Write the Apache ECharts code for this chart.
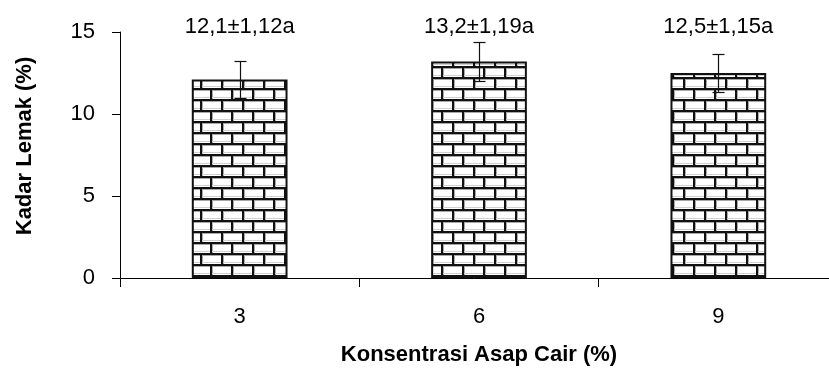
<!DOCTYPE html>
<html>
<head>
<meta charset="utf-8">
<script src="https://cdn.jsdelivr.net/npm/echarts@6/dist/echarts.min.js"></script>
<style>html,body{margin:0;padding:0;background:#fff}#c{width:829px;height:371px}</style>
</head>
<body>
<div id="c"></div>
<script>
var categories = ['3', '6', '9'];
var means = [12.1, 13.2, 12.5];
var sds = [1.12, 1.19, 1.15];
var letters = ['a', 'a', 'a'];
var yTicks = [0, 5, 10, 15];

function fmt(v, d) { return v.toFixed(d).replace('.', ','); }
var labels = means.map(function (m, i) { return fmt(m, 1) + '\u00b1' + fmt(sds[i], 2) + letters[i]; });

function brickPattern() {
  var w = 21, h = 22, c = document.createElement('canvas');
  c.width = w; c.height = h;
  var g = c.getContext('2d');
  g.fillStyle = '#ffffff'; g.fillRect(0, 0, w, h);
  g.fillStyle = '#a8a8a8';
  g.fillRect(0, 2, w, 1); g.fillRect(0, 13, w, 1);
  g.fillRect(2, 0, 1, 11); g.fillRect(13, 11, 1, 11);
  g.fillStyle = '#d0d0d0';
  g.fillRect(0, 9, w, 1); g.fillRect(0, 20, w, 1);
  g.fillStyle = '#111111';
  g.fillRect(0, 0, w, 2); g.fillRect(0, 11, w, 2);
  g.fillRect(0, 0, 2, 11); g.fillRect(11, 11, 2, 11);
  return c;
}

var chart = echarts.init(document.getElementById('c'), null, { renderer: 'canvas' });
var FONT = '"Liberation Sans", Arial, sans-serif';
var option = {
  animation: false,
  grid: { left: 120, top: 32, width: 718, bottom: 93, containLabel: false, outerBoundsMode: 'none' },
  xAxis: {
    type: 'category',
    data: categories,
    name: 'Konsentrasi Asap Cair (%)',
    nameLocation: 'middle',
    nameGap: 66,
    nameTextStyle: { fontFamily: FONT, fontSize: 22, fontWeight: 'bold', color: '#000' },
    axisLine: { lineStyle: { color: '#000', width: 1 } },
    axisTick: { show: true, length: 9, lineStyle: { color: '#000' }, alignWithLabel: false },
    axisLabel: { fontFamily: FONT, fontSize: 22, color: '#000', margin: 28 },
    splitLine: { show: false }
  },
  yAxis: {
    type: 'value',
    min: yTicks[0], max: yTicks[yTicks.length - 1], interval: 5,
    name: 'Kadar Lemak (%)',
    nameLocation: 'middle',
    nameGap: 84,
    nameTextStyle: { fontFamily: FONT, fontSize: 22, fontWeight: 'bold', color: '#000', padding: [0, 0, 0, 18] },
    axisLine: { show: true, lineStyle: { color: '#000', width: 1 } },
    axisTick: { show: true, length: 8, inside: false, lineStyle: { color: '#000' } },
    axisLabel: { fontFamily: FONT, fontSize: 22, color: '#000', margin: 25 },
    splitLine: { show: false }
  },
  series: [
    {
      type: 'bar',
      data: means,
      barWidth: '40%',
      itemStyle: {
        color: { image: brickPattern(), repeat: 'repeat' },
        borderColor: '#111',
        borderWidth: 2
      },
      z: 2
    },
    {
      type: 'custom',
      data: means.map(function (m, i) { return [i, m - sds[i], m + sds[i]]; }),
      renderItem: function (params, api) {
        var lo = api.coord([api.value(0), api.value(1)]);
        var hi = api.coord([api.value(0), api.value(2)]);
        var x = Math.round(lo[0]) + 0.5, hw = 6;
        var st = { stroke: '#111', lineWidth: 1.2 };
        return {
          type: 'group',
          children: [
            { type: 'line', shape: { x1: x, y1: lo[1], x2: x, y2: hi[1] }, style: st },
            { type: 'line', shape: { x1: x - hw, y1: Math.round(lo[1]) + 0.5, x2: x + hw, y2: Math.round(lo[1]) + 0.5 }, style: st },
            { type: 'line', shape: { x1: x - hw, y1: Math.round(hi[1]) + 0.5, x2: x + hw, y2: Math.round(hi[1]) + 0.5 }, style: st }
          ]
        };
      },
      z: 5
    },
    {
      type: 'custom',
      data: means.map(function (m, i) { return [i, yTicks[yTicks.length - 1]]; }),
      renderItem: function (params, api) {
        var p = api.coord([api.value(0), api.value(1)]);
        return {
          type: 'text',
          style: {
            text: labels[params.dataIndex],
            x: p[0], y: p[1] - 5,
            align: 'center', verticalAlign: 'middle',
            font: '22px ' + FONT,
            fill: '#000'
          }
        };
      },
      z: 6
    }
  ]
};
chart.setOption(option);
</script>
</body>
</html>
